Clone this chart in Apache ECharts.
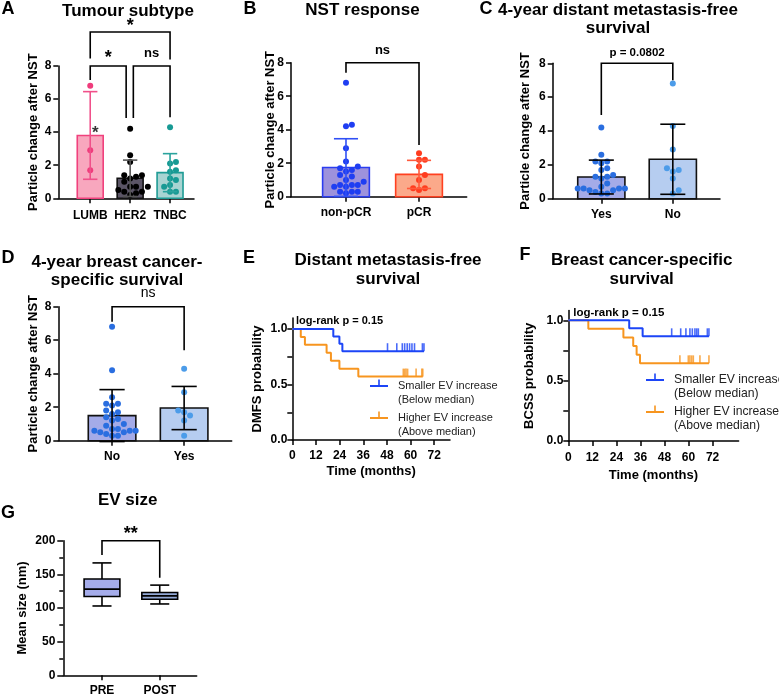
<!DOCTYPE html>
<html><head><meta charset="utf-8">
<script src="https://cdn.jsdelivr.net/npm/echarts@6/dist/echarts.min.js"></script>
<style>html,body{margin:0;padding:0;background:#fff}#c{width:779px;height:696px}</style>
</head><body><div id="c"></div>
<script>
// ================= DATA =================
// Panel A: tumour subtype
const subtypeCats = ['LUMB', 'HER2', 'TNBC'];
const lumbVals = [6.8, 2.9, 1.7];
const lumbStarVals = [4.1];
const her2Vals = [4.2, 2.6, 2.2, 1.4, 1.4, 1.3, 1.2, 1.0, 0.7, 0.7, 0.7, 0.5, 0.4, 0.4, 0.3, 0.2];
const tnbcVals = [4.3, 2.2, 2.1, 1.7, 1.6, 1.2, 1.1, 0.8, 0.7, 0.4, 0.4];
const subtypeMeans = [3.8, 1.21, 1.55];
const subtypeSD = [2.65, 1.1, 1.15];

// Panel B: NST response
const responseCats = ['non-pCR', 'pCR'];
const nonPcrVals = [6.8, 4.3, 4.2, 2.9, 2.1, 1.8, 1.7, 1.6, 1.5, 1.3, 1.2, 1.0, 0.9, 0.7, 0.7, 0.7, 0.6, 0.6, 0.3, 0.3, 0.3, 0.2];
const pcrVals = [2.6, 2.2, 2.2, 1.8, 1.3, 1.0, 0.5, 0.5, 0.4];
const responseMeans = [1.74, 1.33];
const responseSD = [1.72, 0.84];

// Panel C: 4-year DMFS
const dmfsCats = ['Yes', 'No'];
const dmfsYesVals = [4.2, 2.6, 2.2, 2.2, 2.1, 1.8, 1.7, 1.4, 1.3, 1.3, 1.2, 0.9, 0.7, 0.6, 0.6, 0.6, 0.6, 0.5, 0.5, 0.4, 0.3, 0.3];
const dmfsNoVals = [6.8, 4.3, 2.9, 1.8, 1.7, 1.6, 1.2, 0.5, 0.3];
const dmfsMeans = [1.28, 2.33];
const dmfsSD = [1.0, 2.07];

// Panel D: 4-year BCSS
const bcssCats = ['No', 'Yes'];
const bcssNoVals = [6.8, 4.2, 2.6, 2.2, 2.2, 2.1, 1.8, 1.7, 1.6, 1.4, 1.3, 1.2, 1.0, 0.9, 0.7, 0.7, 0.6, 0.6, 0.6, 0.5, 0.5, 0.4, 0.3, 0.3];
const bcssYesVals = [4.3, 2.9, 1.8, 1.7, 1.5, 1.2, 0.3];
const bcssMeans = [1.5, 1.95];
const bcssSD = [1.55, 1.29];

const particleTicks = [0, 2, 4, 6, 8];

// Panels E/F: Kaplan-Meier
const kmTimeTicks = [0, 12, 24, 36, 48, 60, 72];
const kmProbTicks = [0, 0.5, 1.0];
const kmMinorTicks = [0, 0.25, 0.5, 0.75, 1.0];
const dmfsLowTime = [0, 20.8, 23.9, 25.4, 66.8];
const dmfsLowSurv = [1, 0.933, 0.867, 0.8, 0.8];
const dmfsLowCensor = [48.3, 53, 55.8, 57, 58.3, 59.5, 60.7, 62, 66, 66.8];
const dmfsHighTime = [0, 4.3, 6.4, 17.4, 19.6, 23.9, 33.5, 66.2];
const dmfsHighSurv = [1, 0.929, 0.857, 0.786, 0.714, 0.643, 0.571, 0.571];
const dmfsHighCensor = [56.3, 57.0, 57.7, 58.5, 62.8, 65.7, 66.2];

const bcssLowTime = [0, 30.4, 37.1, 70.2];
const bcssLowSurv = [1, 0.933, 0.867, 0.867];
const bcssLowCensor = [51.6, 56.1, 58.7, 60.7, 61.9, 63.2, 64.1, 64.9, 69.4, 70.2];
const bcssHighTime = [0, 10, 27.5, 32.4, 34.1, 35.8, 70.2];
const bcssHighSurv = [1, 0.929, 0.857, 0.786, 0.714, 0.643, 0.643];
const bcssHighCensor = [55.7, 59.9, 60.7, 61.6, 62.4, 65.7, 70.2];

// Panel G: EV size boxplot [min, Q1, median, Q3, max]
const evCats = ['PRE', 'POST'];
const evBox = [[103, 117, 128, 143, 167], [106, 113, 118, 123, 134]];
const evTicks = [0, 50, 100, 150, 200];

// ================= BUILD =================
const FONT = '"Liberation Sans", Arial, Helvetica, sans-serif';
const grids = [], xAxes = [], yAxes = [], series = [], graphics = [];
const lowName = 'Smaller EV increase\n(Below median)';
const highName = 'Higher EV increase\n(Above median)';

function swarm(vals, pxY, pxX, r) {
  const order = vals.map((v, i) => i).sort((a, b) => vals[a] - vals[b]);
  const placed = [], offs = new Array(vals.length).fill(0);
  order.forEach(i => {
    const y = vals[i] * pxY;
    for (let k = 0; k < 60; k++) {
      const s = k === 0 ? 0 : (k % 2 ? 1 : -1) * Math.ceil(k / 2) * r;
      let ok = true;
      for (const p of placed) { const dx = p.x - s, dy = p.y - y; if (dx * dx + dy * dy < r * r * 0.95) { ok = false; break; } }
      if (ok) { placed.push({ x: s, y }); offs[i] = s / pxX; break; }
    }
  });
  return offs;
}

function axisLineStyle() { return { show: true, onZero: false, lineStyle: { color: '#000', width: 1.5 } }; }
const tickLbl = { color: '#000', fontSize: 12, fontWeight: 'bold', fontFamily: FONT };
const nameStyle = { color: '#000', fontSize: 13, fontWeight: 'bold', fontFamily: FONT };

function bracketSeries(gi, list) {
  series.push({
    type: 'custom', xAxisIndex: gi, yAxisIndex: gi, clip: false, silent: true, z: 5,
    data: [[0, 0]],
    renderItem: (params, api) => {
      const ch = [];
      list.forEach(b => {
        if (b.x2 !== undefined) {
          ch.push({ type: 'polyline', shape: { points: [api.coord([b.x1, b.l1]), api.coord([b.x1, b.y]), api.coord([b.x2, b.y]), api.coord([b.x2, b.l2])] },
            style: { stroke: '#000', lineWidth: 1.6, fill: null } });
        }
        if (b.text) {
          const c = api.coord([b.tx, b.ty]);
          ch.push({ type: 'text', x: c[0], y: c[1], style: { text: b.text, fill: '#000', fontSize: b.fs || 13, fontWeight: b.fw || 'bold', fontFamily: FONT, align: 'center', verticalAlign: 'middle' } });
        }
      });
      return { type: 'group', children: ch };
    }
  });
}

function addBarPanel(p) {
  const gi = grids.length;
  grids.push({ left: p.grid[0], top: p.grid[1], width: p.grid[2], height: p.grid[3], containLabel: false, outerBoundsMode: 'none' });
  const idx = p.cats.map((c, i) => i);
  xAxes.push({ type: 'value', gridIndex: gi, min: p.xr[0], max: p.xr[1],
    axisLine: axisLineStyle(), splitLine: { show: false },
    axisTick: { show: true, customValues: idx, length: 5, lineStyle: { color: '#000', width: 1.5 } },
    axisLabel: Object.assign({ customValues: idx, formatter: v => p.cats[Math.round(v)] || '', margin: p.xm }, tickLbl) });
  yAxes.push({ type: 'value', gridIndex: gi, min: 0, max: 8, interval: 2,
    name: 'Particle change after NST', nameLocation: 'middle', nameGap: p.ng, nameRotate: 90, nameMoveOverlap: false, nameTextStyle: nameStyle,
    axisLine: axisLineStyle(), splitLine: { show: false },
    axisTick: { show: true, length: 5, lineStyle: { color: '#000', width: 1.5 } },
    axisLabel: Object.assign({ margin: 7, customValues: particleTicks }, tickLbl) });
  const bw = p.bw;
  // bars
  series.push({ type: 'custom', xAxisIndex: gi, yAxisIndex: gi, z: 2, silent: true,
    data: p.means.map((m, i) => [i, m]),
    renderItem: (params, api) => {
      const i = api.value(0), m = api.value(1);
      const a = api.coord([i - bw / 2, 0]), b = api.coord([i + bw / 2, m]);
      return { type: 'rect', shape: { x: a[0], y: b[1], width: b[0] - a[0], height: a[1] - b[1] },
        style: { fill: p.fills[i], stroke: p.strokes[i], lineWidth: 1.6 } };
    } });
  // points
  const pxY = p.grid[3] / 8, pxX = p.grid[2] / (p.xr[1] - p.xr[0]);
  p.groups.forEach((vals, i) => {
    const offs = swarm(vals, pxY, pxX, 5.9);
    series.push({ type: 'scatter', xAxisIndex: gi, yAxisIndex: gi, z: 3, silent: true, symbolSize: 6,
      itemStyle: { color: p.pts[i], opacity: 1 },
      data: vals.map((v, j) => [i + offs[j], v]) });
  });
  // error bars
  const cw = p.cw;
  series.push({ type: 'custom', xAxisIndex: gi, yAxisIndex: gi, z: 4, silent: true, clip: false,
    data: p.means.map((m, i) => [i, m, p.sd[i]]),
    renderItem: (params, api) => {
      const i = api.value(0), m = api.value(1), s = api.value(2);
      const lo = Math.max(m - s, -0.05), hi = m + s;
      const st = { stroke: p.errs[i], lineWidth: 1.6 };
      const t = api.coord([i, hi]), b = api.coord([i, lo]);
      const tl = api.coord([i - cw / 2, hi]), tr = api.coord([i + cw / 2, hi]);
      const bl = api.coord([i - cw / 2, lo]), br = api.coord([i + cw / 2, lo]);
      return { type: 'group', children: [
        { type: 'line', shape: { x1: t[0], y1: t[1], x2: b[0], y2: b[1] }, style: st },
        { type: 'line', shape: { x1: tl[0], y1: tl[1], x2: tr[0], y2: tr[1] }, style: st },
        { type: 'line', shape: { x1: bl[0], y1: bl[1], x2: br[0], y2: br[1] }, style: st }] };
    } });
  if (p.extra) p.extra(gi);
  bracketSeries(gi, p.brackets);
}

// A
addBarPanel({ grid: [58.3, 66, 135.7, 132.3], xr: [-0.8, 2.6], cats: subtypeCats, xm: 11, ng: 18, bw: 0.65, cw: 0.36,
  means: subtypeMeans, sd: subtypeSD, groups: [lumbVals, her2Vals, tnbcVals],
  fills: ['#f8a7be', '#5b5566', '#a8d4d2'], strokes: ['#f0417d', '#111', '#1f9b95'],
  pts: ['#ef3c7c', '#000', '#179a94'], errs: ['#f0508a', '#555', '#2aa39d'],
  extra: gi => {
    series.push({ type: 'scatter', xAxisIndex: gi, yAxisIndex: gi, z: 4, silent: true, symbolSize: 1, itemStyle: { color: 'rgba(0,0,0,0)' },
      label: { show: true, position: 'inside', formatter: '*', fontSize: 17, fontWeight: 'bold', color: '#000', fontFamily: FONT, offset: [0, 3] },
      data: lumbStarVals.map(v => [0.13, v]) });
  },
  brackets: [
    { x1: 0, x2: 2, y: 10.06, l1: 8.45, l2: 8.4, text: '*', tx: 1, ty: 10.42, fs: 18 },
    { x1: 0, x2: 0.9, y: 8, l1: 7.15, l2: 4.85, text: '*', tx: 0.45, ty: 8.47, fs: 18 },
    { x1: 1.08, x2: 2, y: 8, l1: 4.85, l2: 4.9, text: 'ns', tx: 1.54, ty: 8.78, fs: 13 }
  ] });
// B
addBarPanel({ grid: [291, 62.7, 175.7, 134], xr: [-0.753, 1.653], cats: responseCats, xm: 10, ng: 14.5, bw: 0.64, cw: 0.33,
  means: responseMeans, sd: responseSD, groups: [nonPcrVals, pcrVals],
  fills: ['#9d92dc', '#fba98a'], strokes: ['#2b3df0', '#ff4020'],
  pts: ['#1f3ef2', '#ff3c1e'], errs: ['#3050f5', '#ff5a3c'],
  brackets: [{ x1: 0, x2: 1, y: 8, l1: 7.4, l2: 3.09, text: 'ns', tx: 0.5, ty: 8.72, fs: 13 }] });
// C
addBarPanel({ grid: [552.7, 63.3, 167.3, 135.4], xr: [-0.68, 1.66], cats: dmfsCats, xm: 10, ng: 21, bw: 0.66, cw: 0.35,
  means: dmfsMeans, sd: dmfsSD, groups: [dmfsYesVals, dmfsNoVals],
  fills: ['#a4abe8', '#b6cdf0'], strokes: ['#111', '#111'],
  pts: ['#2a6ee0', '#4c9ce9'], errs: ['#000', '#000'],
  brackets: [{ x1: 0, x2: 1, y: 8, l1: 4.95, l2: 7.0, text: 'p = 0.0802', tx: 0.5, ty: 8.6, fs: 11.5 }] });
// D
addBarPanel({ grid: [58.3, 306.7, 173.4, 134], xr: [-0.746, 1.66], cats: bcssCats, xm: 10, ng: 18, bw: 0.66, cw: 0.35,
  means: bcssMeans, sd: bcssSD, groups: [bcssNoVals, bcssYesVals],
  fills: ['#a4abe8', '#b6cdf0'], strokes: ['#111', '#111'],
  pts: ['#2a6ee0', '#4c9ce9'], errs: ['#000', '#000'],
  brackets: [{ x1: 0, x2: 1, y: 8, l1: 7.1, l2: 5.4, text: 'ns', tx: 0.5, ty: 8.8, fs: 14, fw: 'normal' }] });

// KM panels
function stepAt(T, S, t) { let s = S[0]; for (let i = 0; i < T.length; i++) if (T[i] <= t) s = S[i]; return s; }
function addKM(p) {
  const gi = grids.length;
  grids.push({ left: p.grid[0], top: p.grid[1], width: p.grid[2], height: p.grid[3], containLabel: false, outerBoundsMode: 'none' });
  xAxes.push({ type: 'value', gridIndex: gi, min: 0, max: p.xmax,
    name: 'Time (months)', nameLocation: 'middle', nameGap: p.xng, nameMoveOverlap: false, nameTextStyle: nameStyle,
    axisLine: axisLineStyle(), splitLine: { show: false },
    axisTick: { show: true, customValues: kmTimeTicks, length: 5, lineStyle: { color: '#000', width: 1.5 } },
    axisLabel: Object.assign({ customValues: kmTimeTicks, margin: p.xm }, tickLbl) });
  yAxes.push({ type: 'value', gridIndex: gi, min: 0, max: p.ymax,
    name: p.yname, nameLocation: 'middle', nameGap: p.yng, nameRotate: 90, nameMoveOverlap: false, nameTextStyle: nameStyle,
    axisLine: axisLineStyle(), splitLine: { show: false },
    axisTick: { show: true, customValues: kmMinorTicks, length: 5, lineStyle: { color: '#000', width: 1.5 } },
    axisLabel: Object.assign({ customValues: kmProbTicks, margin: 5, formatter: v => v.toFixed(1) }, tickLbl) });
  [[p.highT, p.highS, p.highC, '#f7951f', highName], [p.lowT, p.lowS, p.lowC, '#1c45f7', lowName]].forEach(([T, S, C, col, nm]) => {
    series.push({ type: 'line', name: nm, xAxisIndex: gi, yAxisIndex: gi, step: 'end', showSymbol: false, silent: true, z: 3,
      itemStyle: { color: col }, lineStyle: { color: col, width: 2 },
      data: T.map((t, i) => [t, S[i]]) });
    series.push({ type: 'scatter', name: nm + ' censored', xAxisIndex: gi, yAxisIndex: gi, silent: true, z: 3,
      symbol: 'rect', symbolSize: [1.6, 8], symbolOffset: [0, -4], itemStyle: { color: col },
      data: C.map(t => [t, stepAt(T, S, t)]) });
  });
}
addKM({ grid: [292.3, 317.9, 157.7, 122.1], xmax: 80, ymax: 1.1, xng: 25, xm: 10, yng: 28.5, yname: 'DMFS probability',
  lowT: dmfsLowTime, lowS: dmfsLowSurv, lowC: dmfsLowCensor, highT: dmfsHighTime, highS: dmfsHighSurv, highC: dmfsHighCensor });
addKM({ grid: [568.3, 310.6, 170.3, 130.4], xmax: 85, ymax: 1.08, xng: 27.5, xm: 11, yng: 32, yname: 'BCSS probability',
  lowT: bcssLowTime, lowS: bcssLowSurv, lowC: bcssLowCensor, highT: bcssHighTime, highS: bcssHighSurv, highC: bcssHighCensor });

// G boxplot
(function () {
  const gi = grids.length;
  grids.push({ left: 63.3, top: 540.7, width: 133.4, height: 134.6, containLabel: false, outerBoundsMode: 'none' });
  const idx = evCats.map((c, i) => i);
  xAxes.push({ type: 'value', gridIndex: gi, min: -0.67, max: 1.64,
    axisLine: axisLineStyle(), splitLine: { show: false },
    axisTick: { show: true, customValues: idx, length: 5, lineStyle: { color: '#000', width: 1.5 } },
    axisLabel: Object.assign({ customValues: idx, formatter: v => evCats[Math.round(v)] || '', margin: 9 }, tickLbl) });
  yAxes.push({ type: 'value', gridIndex: gi, min: 0, max: 200, interval: 50,
    name: 'Mean size (nm)', nameLocation: 'middle', nameGap: 34, nameRotate: 90, nameMoveOverlap: false, nameTextStyle: nameStyle,
    axisLine: axisLineStyle(), splitLine: { show: false },
    axisTick: { show: true, length: 6, lineStyle: { color: '#000', width: 1.5 } },
    minorTick: { show: true, splitNumber: 2, length: 4, lineStyle: { color: '#000', width: 1.5 } },
    axisLabel: Object.assign({ margin: 8, customValues: evTicks }, tickLbl) });
  const fills = ['#a5acea', '#93a9d6'];
  const bw = 0.62, cw = 0.33;
  series.push({ type: 'custom', xAxisIndex: gi, yAxisIndex: gi, silent: true, z: 3,
    data: evBox.map((b, i) => [i].concat(b)),
    renderItem: (params, api) => {
      const i = api.value(0), mn = api.value(1), q1 = api.value(2), md = api.value(3), q3 = api.value(4), mx = api.value(5);
      const st = { stroke: '#000', lineWidth: 1.6 };
      const L = (x1, y1, x2, y2) => { const a = api.coord([x1, y1]), b = api.coord([x2, y2]); return { type: 'line', shape: { x1: a[0], y1: a[1], x2: b[0], y2: b[1] }, style: st }; };
      const a = api.coord([i - bw / 2, q3]), b = api.coord([i + bw / 2, q1]);
      return { type: 'group', children: [
        L(i, mx, i, q3), L(i, q1, i, mn), L(i - cw / 2, mx, i + cw / 2, mx), L(i - cw / 2, mn, i + cw / 2, mn),
        { type: 'rect', shape: { x: a[0], y: a[1], width: b[0] - a[0], height: b[1] - a[1] }, style: { fill: fills[i], stroke: '#000', lineWidth: 1.6 } },
        L(i - bw / 2, md, i + bw / 2, md)] };
    } });
  bracketSeries(gi, [{ x1: 0, x2: 1, y: 200, l1: 178.6, l2: 145, text: '**', tx: 0.5, ty: 209.8, fs: 18 }]);
})();

// ===== text (titles, panel letters, annotations) =====
function T(x, y, text, fs, fw, align, lh) {
  graphics.push({ type: 'text', x, y, silent: true, style: { text, fill: '#000', fontSize: fs, fontWeight: fw, fontFamily: FONT, align: align || 'center', verticalAlign: 'middle', lineHeight: lh || fs * 1.15 } });
}
T(128, 11, 'Tumour subtype', 17, 'bold');
T(362.5, 10, 'NST response', 17, 'bold');
T(618, 19, '4-year distant metastasis-free\nsurvival', 17, 'bold', 'center', 18);
T(117, 271, '4-year breast cancer-\nspecific survival', 17, 'bold', 'center', 18);
T(388, 269.5, 'Distant metastasis-free\nsurvival', 17, 'bold', 'center', 19);
T(641.7, 269.5, 'Breast cancer-specific\nsurvival', 17, 'bold', 'center', 19);
T(127.7, 500, 'EV size', 17, 'bold');
T(8, 9, 'A', 18, 'bold'); T(250, 9, 'B', 18, 'bold'); T(486, 9, 'C', 18, 'bold');
T(8, 258, 'D', 18, 'bold'); T(249, 258, 'E', 18, 'bold'); T(525, 255, 'F', 18, 'bold'); T(8, 513, 'G', 18, 'bold');
T(296, 321, 'log-rank p = 0.15', 11, 'bold', 'left');
T(573.3, 312.7, 'log-rank p = 0.15', 11.5, 'bold', 'left');

const ICON = 'path://M0,6L18,6L18,8L0,8Z M8.2,0.5L9.8,0.5L9.8,6L8.2,6Z M0,0L0.01,0L0.01,0.01L0,0.01Z M22.99,27.99L23,27.99L23,28L22.99,28Z';
function legendAt(left, top, fs) {
  return { left, top, orient: 'vertical', itemWidth: 23, itemHeight: 28, itemGap: 4, selectedMode: false, padding: 0,
    textStyle: { fontSize: fs, lineHeight: 14, color: '#222', fontFamily: FONT },
    data: [{ name: lowName, icon: ICON }, { name: highName, icon: ICON }] };
}

const chart = echarts.init(document.getElementById('c'), null, { renderer: 'canvas' });
chart.setOption({
  backgroundColor: '#fff', animation: false,
  textStyle: { fontFamily: FONT },
  grid: grids, xAxis: xAxes, yAxis: yAxes, series,
  legend: [legendAt(370, 379, 11), legendAt(646, 373, 12.2)],
  graphic: graphics
});
</script></body></html>
